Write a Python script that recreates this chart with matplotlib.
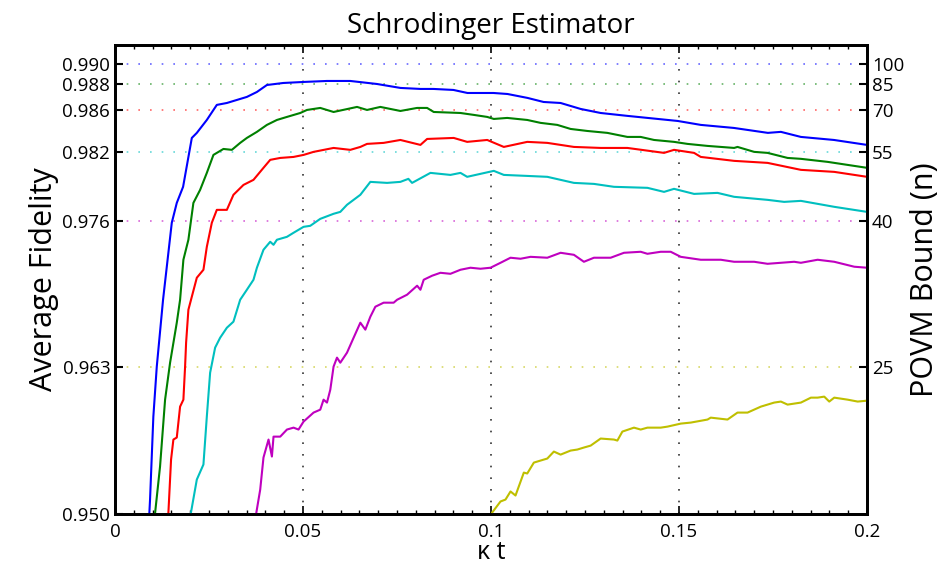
import numpy as np
import matplotlib
matplotlib.use('Agg')
from matplotlib import pyplot as plt
from matplotlib.ticker import MultipleLocator

plt.rcParams['font.family'] = ['Open Sans', 'DejaVu Sans']

# --- data (kappa*t, average fidelity) ---
kt_100 = [0.00913, 0.00932, 0.01020, 0.01111, 0.01278, 0.01510, 0.01643, 0.01811, 0.02043, 0.02176,
          0.02442, 0.02708, 0.02975, 0.03241, 0.03507, 0.03774, 0.04040, 0.04474, 0.05007, 0.05638,
          0.06258, 0.06969, 0.07590, 0.08123, 0.08469, 0.09001, 0.09374, 0.10067, 0.10439, 0.10972,
          0.11398, 0.11851, 0.12383, 0.12916, 0.13635, 0.14168, 0.14967, 0.15579, 0.16458, 0.17364,
          0.17710, 0.18242, 0.19121, 0.2]
fid_100 = [0.95000, 0.95124, 0.95862, 0.96307, 0.96902, 0.97587, 0.97764, 0.97907, 0.98342, 0.98387,
           0.98502, 0.98636, 0.98653, 0.98680, 0.98707, 0.98751, 0.98813, 0.98831, 0.98840, 0.98849,
           0.98849, 0.98822, 0.98787, 0.98778, 0.98778, 0.98769, 0.98742, 0.98742, 0.98733, 0.98698,
           0.98662, 0.98653, 0.98600, 0.98564, 0.98538, 0.98520, 0.98493, 0.98458, 0.98431, 0.98387,
           0.98396, 0.98351, 0.98324, 0.98280]

kt_85 = [0.01065, 0.01198, 0.01332, 0.01465, 0.01643, 0.01731, 0.01819, 0.01952, 0.02085, 0.02264,
         0.02442, 0.02618, 0.02884, 0.03108, 0.03329, 0.03507, 0.03774, 0.04040, 0.04306, 0.04573,
         0.04927, 0.05105, 0.05459, 0.05813, 0.06437, 0.06703, 0.07057, 0.07590, 0.08034, 0.08301,
         0.08477, 0.09188, 0.09542, 0.09899, 0.10075, 0.10431, 0.10964, 0.11318, 0.11763, 0.12117,
         0.12562, 0.13094, 0.13627, 0.13981, 0.14336, 0.14868, 0.15225, 0.15758, 0.16466, 0.16556,
         0.16999, 0.17355, 0.17888, 0.18242, 0.18953, 0.19486, 0.2]
fid_85 = [0.95000, 0.95418, 0.96013, 0.96342, 0.96698, 0.96902, 0.97258, 0.97436, 0.97764, 0.97880,
          0.98031, 0.98191, 0.98244, 0.98236, 0.98298, 0.98342, 0.98396, 0.98458, 0.98502, 0.98529,
          0.98564, 0.98591, 0.98609, 0.98573, 0.98618, 0.98591, 0.98618, 0.98582, 0.98609, 0.98609,
          0.98573, 0.98564, 0.98547, 0.98529, 0.98511, 0.98520, 0.98502, 0.98476, 0.98458, 0.98422,
          0.98404, 0.98387, 0.98351, 0.98351, 0.98324, 0.98307, 0.98289, 0.98271, 0.98253, 0.98262,
          0.98218, 0.98209, 0.98164, 0.98156, 0.98129, 0.98102, 0.98076]

kt_70 = [0.01419, 0.01491, 0.01553, 0.01643, 0.01731, 0.01819, 0.01864, 0.01891, 0.01952, 0.02043,
         0.02176, 0.02352, 0.02442, 0.02575, 0.02708, 0.02975, 0.03150, 0.03417, 0.03683, 0.03949,
         0.04128, 0.04394, 0.04748, 0.05015, 0.05281, 0.05813, 0.06258, 0.06525, 0.06703, 0.07145,
         0.07590, 0.08123, 0.08301, 0.09009, 0.09366, 0.09899, 0.10341, 0.10964, 0.11497, 0.12205,
         0.12916, 0.13627, 0.14602, 0.14868, 0.15401, 0.15579, 0.16466, 0.17355, 0.18242, 0.19129, 0.2]
fid_70 = [0.95000, 0.95480, 0.95658, 0.95676, 0.95951, 0.96013, 0.96307, 0.96520, 0.96813, 0.96929,
          0.97098, 0.97169, 0.97373, 0.97587, 0.97702, 0.97702, 0.97836, 0.97924, 0.97969, 0.98076,
          0.98147, 0.98164, 0.98173, 0.98191, 0.98218, 0.98253, 0.98236, 0.98262, 0.98289, 0.98298,
          0.98324, 0.98280, 0.98333, 0.98342, 0.98307, 0.98324, 0.98262, 0.98307, 0.98298, 0.98262,
          0.98253, 0.98253, 0.98209, 0.98236, 0.98209, 0.98173, 0.98138, 0.98120, 0.98058, 0.98040, 0.97996]

kt_55 = [0.02016, 0.02176, 0.02352, 0.02442, 0.02530, 0.02663, 0.02796, 0.02975, 0.03150, 0.03329,
         0.03507, 0.03683, 0.03774, 0.03949, 0.04128, 0.04216, 0.04306, 0.04573, 0.04748, 0.05015,
         0.05193, 0.05459, 0.05813, 0.05992, 0.06170, 0.06525, 0.06791, 0.07236, 0.07590, 0.07803,
         0.07901, 0.08389, 0.08921, 0.09188, 0.09366, 0.10075, 0.10341, 0.10964, 0.11497, 0.12205,
         0.12738, 0.13270, 0.14160, 0.14602, 0.14868, 0.15401, 0.16024, 0.16466, 0.17355, 0.17797,
         0.18242, 0.19129, 0.2]
fid_55 = [0.95000, 0.95302, 0.95436, 0.95862, 0.96253, 0.96476, 0.96564, 0.96653, 0.96707, 0.96902,
          0.96991, 0.97080, 0.97187, 0.97347, 0.97418, 0.97391, 0.97436, 0.97462, 0.97498, 0.97551,
          0.97560, 0.97622, 0.97667, 0.97684, 0.97747, 0.97836, 0.97951, 0.97942, 0.97951, 0.97978,
          0.97942, 0.98031, 0.98013, 0.98031, 0.97996, 0.98049, 0.98013, 0.98004, 0.97996, 0.97942,
          0.97933, 0.97907, 0.97898, 0.97862, 0.97889, 0.97844, 0.97853, 0.97818, 0.97791, 0.97773,
          0.97782, 0.97729, 0.97684]

kt_40 = [0.03755, 0.03862, 0.03949, 0.04083, 0.04173, 0.04216, 0.04394, 0.04573, 0.04748, 0.04881,
         0.05015, 0.05281, 0.05459, 0.05547, 0.05638, 0.05726, 0.05813, 0.05904, 0.05992, 0.06170,
         0.06346, 0.06525, 0.06658, 0.06791, 0.06924, 0.07145, 0.07411, 0.07502, 0.07768, 0.08035,
         0.08123, 0.08210, 0.08434, 0.08655, 0.08921, 0.09188, 0.09454, 0.09720, 0.09987, 0.10253,
         0.10519, 0.10786, 0.11052, 0.11497, 0.11851, 0.12205, 0.12471, 0.12738, 0.13182, 0.13537,
         0.13981, 0.14160, 0.14514, 0.14780, 0.15047, 0.15579, 0.16112, 0.16466, 0.16999, 0.17355,
         0.18063, 0.18242, 0.18687, 0.19129, 0.19661, 0.2]
fid_40 = [0.95000, 0.95213, 0.95498, 0.95658, 0.95507, 0.95684, 0.95684, 0.95747, 0.95764, 0.95747,
          0.95818, 0.95898, 0.95924, 0.96013, 0.95987, 0.96102, 0.96307, 0.96387, 0.96342, 0.96431,
          0.96564, 0.96698, 0.96636, 0.96751, 0.96840, 0.96876, 0.96876, 0.96902, 0.96947, 0.97027,
          0.96991, 0.97080, 0.97116, 0.97142, 0.97133, 0.97169, 0.97187, 0.97178, 0.97187, 0.97231,
          0.97276, 0.97267, 0.97284, 0.97276, 0.97320, 0.97302, 0.97240, 0.97276, 0.97276, 0.97320,
          0.97329, 0.97311, 0.97329, 0.97329, 0.97284, 0.97258, 0.97258, 0.97240, 0.97240, 0.97222,
          0.97240, 0.97231, 0.97258, 0.97240, 0.97196, 0.97187]

kt_25 = [0.10032, 0.10253, 0.10386, 0.10519, 0.10652, 0.10873, 0.10964, 0.11140, 0.11406, 0.11497,
         0.11672, 0.11851, 0.12117, 0.12296, 0.12471, 0.12650, 0.12916, 0.13270, 0.13361, 0.13494,
         0.13803, 0.13981, 0.14160, 0.14514, 0.14692, 0.15047, 0.15313, 0.15758, 0.15845, 0.16290,
         0.16556, 0.16823, 0.17177, 0.17531, 0.17710, 0.17888, 0.18242, 0.18509, 0.18687, 0.18863,
         0.18996, 0.19129, 0.19486, 0.19752, 0.2]
fid_25 = [0.95009, 0.95107, 0.95124, 0.95196, 0.95160, 0.95364, 0.95356, 0.95453, 0.95480, 0.95489,
          0.95551, 0.95524, 0.95560, 0.95569, 0.95587, 0.95604, 0.95667, 0.95658, 0.95649, 0.95729,
          0.95764, 0.95747, 0.95764, 0.95764, 0.95773, 0.95800, 0.95809, 0.95836, 0.95853, 0.95836,
          0.95898, 0.95898, 0.95951, 0.95987, 0.95996, 0.95969, 0.95987, 0.96031, 0.96031, 0.96040,
          0.95996, 0.96031, 0.96013, 0.95996, 0.96004]

bounds = [100, 85, 70, 55, 40, 25]
bound_fid = [0.9900, 0.9882, 0.9859, 0.9822, 0.9760, 0.9630]
bound_lbl = ['0.990', '0.988', '0.986', '0.982', '0.976', '0.963']
colors = ['#0000ff', '#008000', '#ff0000', '#00bfbf', '#bf00bf', '#bfbf00']

xticks = [0, 0.05, 0.1, 0.15, 0.2]
xticklabels = ['0', '0.05', '0.1', '0.15', '0.2']

fig = plt.figure(figsize=(9.4, 5.64), dpi=100)
ax = fig.add_axes([115/940, 1-513.5/564, 752/940, 468.5/564])

curves = [(kt_100, fid_100), (kt_85, fid_85), (kt_70, fid_70),
          (kt_55, fid_55), (kt_40, fid_40), (kt_25, fid_25)]

# dotted reference lines at the fidelity reached for each bound
for f, c in zip(bound_fid, colors):
    ax.axhline(f, color=c, ls=(0, (1, 6)), lw=1.2, alpha=0.6, zorder=1)
for xv in xticks[1:-1]:
    ax.axvline(xv, color='k', ls=(0, (1, 6)), lw=1.2, alpha=0.8, zorder=1)

for (k, f), c in zip(curves, colors):
    ax.plot(k, f, color=c, lw=1.5, zorder=3)

ax.set_xlim(0, 0.2)
ax.set_ylim(0.950, 0.99169)
ax.set_xticks(xticks)
ax.set_xticklabels(xticklabels)
ax.xaxis.set_minor_locator(MultipleLocator(0.005))
ax.set_yticks([0.950] + bound_fid)
ax.set_yticklabels(['0.950'] + bound_lbl)
ax.tick_params(axis='x', which='both', direction='in', top=True, labelsize=13.5, pad=7)
ax.tick_params(axis='x', which='major', length=6, width=1.2)
ax.tick_params(axis='x', which='minor', length=3, width=1)
ax.tick_params(axis='y', direction='in', length=6, width=1.5, labelsize=13.5)
for s in ax.spines.values():
    s.set_linewidth(2)

ax2 = ax.twinx()
ax2.set_ylim(ax.get_ylim())
ax2.set_yticks(bound_fid)
ax2.set_yticklabels([str(b) for b in bounds])
ax2.tick_params(axis='y', direction='in', length=6, width=1.5, labelsize=13.5)
for s in ax2.spines.values():
    s.set_linewidth(2)

ax.set_title('Schrodinger Estimator', fontsize=20, pad=9)
ax.set_xlabel('\u03ba t', fontsize=18, labelpad=-1)
ax.set_ylabel('Average Fidelity', fontsize=22, labelpad=2)
ax2.set_ylabel('POVM Bound (n)', fontsize=22, labelpad=4)

fig.savefig('out.png', dpi=100)
